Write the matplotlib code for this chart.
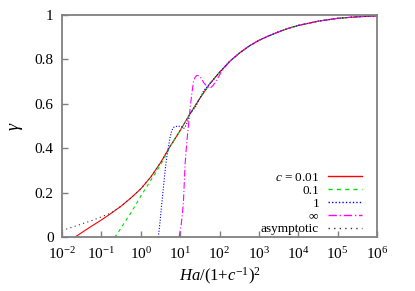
import numpy as np
import matplotlib
matplotlib.use('Agg')
import matplotlib.pyplot as plt

plt.rcParams['font.family'] = ['Liberation Serif', 'DejaVu Serif']
plt.rcParams['mathtext.fontset'] = 'custom'
plt.rcParams['mathtext.rm'] = 'Liberation Serif'
plt.rcParams['mathtext.it'] = 'Liberation Serif:italic'
plt.rcParams['font.size'] = 10

# common upper part of all curves: log10(x), gamma
tail_logx = [2.0, 2.25, 2.5, 2.75, 3.0, 3.25, 3.5, 3.75, 4.0, 4.5, 5.0, 5.5, 6.0]
tail_g = [0.742, 0.79, 0.828, 0.86, 0.886, 0.906, 0.924, 0.94, 0.953, 0.972, 0.985, 0.992, 0.996]

# middle part shared by red / green / asymptotic
mid_logx = [0.75, 1.0, 1.25, 1.5, 1.75]
mid_g = [0.41, 0.48, 0.555, 0.625, 0.69]

# c = 0.01
red_logx = [-1.677, -1.5, -1.25, -1.0, -0.75, -0.5, -0.25, 0.0, 0.25, 0.5] + mid_logx + tail_logx
red_g = [0.0, 0.021, 0.05, 0.078, 0.108, 0.14, 0.177, 0.218, 0.27, 0.335] + mid_g + tail_g

# c = 0.1
green_logx = [-0.661, -0.6, -0.5, -0.4, -0.25, 0.0, 0.25, 0.5, 0.65] + mid_logx + tail_logx
green_g = [0.0, 0.015, 0.042, 0.07, 0.11, 0.185, 0.255, 0.325, 0.375] + mid_g + tail_g

# c = 1
blue_logx = [0.447, 0.49, 0.534, 0.576, 0.618, 0.66, 0.701, 0.745, 0.788, 0.83, 0.872, 0.95,
             1.042, 1.09, 1.126, 1.19, 1.25, 1.4, 1.5, 1.6, 1.75] + tail_logx
blue_g = [0.0, 0.07, 0.152, 0.225, 0.30, 0.36, 0.405, 0.45, 0.48, 0.494, 0.498, 0.50,
          0.498, 0.49, 0.495, 0.52, 0.555, 0.59, 0.625, 0.66, 0.69] + tail_g

# c = infinity
mag_logx = [0.973, 1.03, 1.083, 1.126, 1.17, 1.21, 1.25, 1.296, 1.34, 1.38, 1.42, 1.464, 1.51,
            1.55, 1.6, 1.677, 1.72, 1.761, 1.8, 1.845, 1.9, 1.972, 2.05] + tail_logx[1:]
mag_g = [0.0, 0.06, 0.153, 0.33, 0.43, 0.5, 0.575, 0.645, 0.70, 0.72, 0.728, 0.727, 0.72,
         0.712, 0.695, 0.68, 0.672, 0.672, 0.676, 0.685, 0.70, 0.72, 0.745] + tail_g[1:]

# asymptotic
asy_logx = [-2.0, -1.75, -1.5, -1.25, -1.0, -0.75, -0.5, -0.25, 0.0, 0.25, 0.5] + mid_logx + tail_logx
asy_g = [0.03, 0.045, 0.06, 0.075, 0.092, 0.11, 0.14, 0.177, 0.218, 0.27, 0.335] + mid_g + tail_g

labels = [r'$c$ = 0.01', '0.1', '1', r'$\infty$', 'asymptotic']

fig = plt.figure(figsize=(4.15, 2.91), dpi=100)
ax = fig.add_axes([62/415, 1 - 237.3/291, 315/415, 222.3/291])

lw = 0.8
ax.plot(10**np.array(red_logx), red_g, color='#ff0000', lw=lw, ls='-', label=labels[0])
ax.plot(10**np.array(green_logx), green_g, color='#00e000', lw=lw, ls=(0, (3, 3)), label=labels[1])
ax.plot(10**np.array(blue_logx), blue_g, color='#0000ff', lw=lw, ls=(0, (1, 1.5)), label=labels[2])
ax.plot(10**np.array(mag_logx), mag_g, color='#ff00ff', lw=lw, ls=(0, (6, 2, 1, 2)), label=labels[3])
ax.plot(10**np.array(asy_logx), asy_g, color='#333333', lw=lw, ls=(0, (1, 3)), label=labels[4])

ax.set_xscale('log')
ax.set_xlim(1e-2, 1e6)
ax.set_ylim(0, 1)
ax.set_xticks([10.0**k for k in range(-2, 7)])
ax.set_yticks([0, 0.2, 0.4, 0.6, 0.8, 1])
ax.set_yticklabels(['0', '0.2', '0.4', '0.6', '0.8', '1'])

for s in ax.spines.values():
    s.set_color('#808080')
    s.set_linewidth(1.3)
ax.tick_params(which='both', direction='in', top=False, right=False, colors='#808080',
               labelcolor='black', labelsize=11)
ax.tick_params(which='major', length=4, width=1, pad=6)
ax.tick_params(which='minor', length=2, width=0.8)

ax.set_xlabel(r'$Ha$/(1+$c^{-1}$)$^2$', fontsize=12, labelpad=3)
ax.set_ylabel(r'$\gamma$', fontsize=13, labelpad=7)

leg = ax.legend(loc='lower right', bbox_to_anchor=(1 - 15/315, 2.0/222.3),
                markerfirst=False, frameon=False, fontsize=9.5,
                handlelength=2.6, handletextpad=0.65, labelspacing=0.05,
                borderaxespad=0, borderpad=0)
for h in leg.legend_handles:
    h.set_linewidth(1.0)

fig.savefig('out.png', dpi=100)
